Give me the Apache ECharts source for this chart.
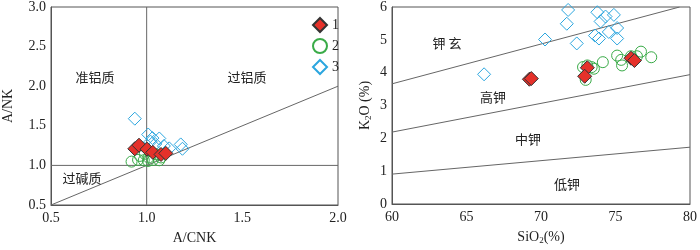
<!DOCTYPE html>
<html><head><meta charset="utf-8">
<script src="https://cdn.jsdelivr.net/npm/echarts@6/dist/echarts.min.js"></script>
<style>html,body{margin:0;padding:0;background:#fff}#c{width:700px;height:250px}</style>
</head><body><div id="c"></div>
<script>
// ---- Left chart: A/CNK vs A/NK ----
var leftS1 = [[0.938,1.21],[0.96,1.255],[1.002,1.205],[1.032,1.165],[1.075,1.138],[1.10,1.152]];
var leftS2 = [[0.921,1.048],[0.955,1.07],[0.965,1.12],[0.985,1.065],[0.99,1.146],[1.007,1.056],[1.01,1.10],[1.032,1.068],[1.049,1.14],[1.066,1.065],[1.075,1.10]];
var leftS3 = [[0.938,1.59],[1.008,1.39],[1.03,1.345],[1.066,1.34],[1.045,1.27],[1.09,1.245],[1.118,1.215],[1.178,1.265],[1.187,1.21],[1.02,1.30]];
var leftVert = [[1.0,0.5],[1.0,3.0]];
var leftHorz = [[0.5,1.0],[2.0,1.0]];
var leftDiag = [[0.5,0.5],[2.0,2.0]];
// ---- Right chart: SiO2 vs K2O ----
var rightS1 = [[69.22,3.80],[69.35,3.82],[73.11,4.15],[72.93,3.89],[76.04,4.44],[76.27,4.37]];
var rightS2 = [[73.0,3.78],[73.11,4.22],[73.4,4.17],[73.55,4.12],[72.82,4.17],[74.15,4.32],[75.11,4.52],[75.44,4.22],[75.38,4.39],[76.04,4.50],[76.44,4.50],[76.71,4.64],[77.4,4.47]];
var rightS3 = [[66.18,3.95],[70.27,5.01],[71.73,5.49],[71.82,5.91],[72.4,4.89],[73.78,5.84],[74.0,5.56],[74.33,5.71],[74.89,5.76],[73.62,5.13],[73.89,5.04],[74.55,5.24],[75.11,5.36],[75.11,5.04]];
var rightShoLine = [[60,3.66],[79.3,6.0]];
var rightHighLine = [[60,2.19],[80,3.94]];
var rightLowLine = [[60,0.91],[80,1.73]];
var legendNames = ['1','2','3'];

var FONT = '"Liberation Serif","Times New Roman",serif';
var CJK = '"Noto Sans CJK SC",sans-serif';
var RED = '#e5312a', GREEN = '#3aab48', BLUE = '#2ba6df';
var axisCol = '#555';

function xAxis(idx, min, max, interval, name, fmt, rich){
  return {gridIndex: idx, type:'value', min:min, max:max, interval:interval,
    name:name, nameLocation:'middle', nameGap:26,
    nameTextStyle:{fontFamily:FONT, fontSize:14, color:'#222', rich:rich},
    axisLine:{show:true, lineStyle:{color:axisCol, width:1}},
    axisTick:{show:false}, splitLine:{show:false},
    axisLabel:{fontFamily:FONT, fontSize:14, color:'#222', margin:6, formatter:fmt}};
}
function yAxis(idx, min, max, interval, name, gap, fmt, rich){
  return {gridIndex: idx, type:'value', min:min, max:max, interval:interval,
    name:name, nameLocation:'middle', nameGap:gap, nameRotate:90,
    nameTextStyle:{fontFamily:FONT, fontSize:14, color:'#222', rich:rich},
    axisLine:{show:true, lineStyle:{color:axisCol, width:1}},
    axisTick:{show:false}, splitLine:{show:false},
    axisLabel:{fontFamily:FONT, fontSize:14, color:'#222', margin:5, formatter:fmt}};
}
function refLine(xi, data){
  return {type:'line', xAxisIndex:xi, yAxisIndex:xi, data:data, symbol:'none', silent:true,
    lineStyle:{color:'#666', width:1}, z:1, animation:false};
}
function s1(xi, data){ return {name:'1', type:'scatter', xAxisIndex:xi, yAxisIndex:xi, data:data, symbol:'diamond', symbolSize:14,
  itemStyle:{color:RED, borderColor:'#333', borderWidth:1, opacity:1}, z:5}; }
function s2(xi, data){ return {name:'2', type:'scatter', xAxisIndex:xi, yAxisIndex:xi, data:data, symbol:'circle', symbolSize:11,
  itemStyle:{color:'rgba(255,255,255,0)', borderColor:GREEN, borderWidth:1, opacity:1}, z:4}; }
function s3(xi, data){ return {name:'3', type:'scatter', xAxisIndex:xi, yAxisIndex:xi, data:data, symbol:'diamond', symbolSize:13,
  itemStyle:{color:'rgba(255,255,255,0)', borderColor:BLUE, borderWidth:1, opacity:1}, z:3}; }

var f1 = function(v){ return v.toFixed(1); };
var f0 = function(v){ return String(v); };
var subRich = {sub:{fontFamily:FONT, fontSize:9, color:'#222', verticalAlign:'bottom', padding:[6,0,0,0]}};

function txt(x, y, s){
  return {type:'text', left:x, top:y, style:{text:s, fontFamily:CJK, fontSize:13, fill:'#222', textAlign:'center', textVerticalAlign:'middle'}, z:10};
}

var chart = echarts.init(document.getElementById('c'), null, {renderer:'canvas'});
chart.setOption({
  animation:false,
  backgroundColor:'#fff',
  grid:[
    {left:47, top:7, width:291, height:202, show:true, borderColor:axisCol, borderWidth:1, backgroundColor:'transparent'},
    {left:392, top:7, width:300, height:202, show:true, borderColor:axisCol, borderWidth:1, backgroundColor:'transparent'}
  ],
  xAxis:[ xAxis(0,0.5,2.0,0.5,'A/CNK',f1), xAxis(1,60,80,5,'SiO{sub|2}(%)',f0,subRich) ],
  yAxis:[ yAxis(0,0.5,3.0,0.5,'A/NK',36,f1), yAxis(1,0,6,1,'K{sub|2}O (%)',19,f0,subRich) ],
  legend:{data:legendNames, orient:'vertical', left:307, top:12, itemWidth:14, itemHeight:14, itemGap:5,
    textStyle:{fontFamily:FONT, fontSize:14, color:'#222'}, selectedMode:false},
  series:[
    refLine(0,leftVert), refLine(0,leftHorz), refLine(0,leftDiag),
    refLine(1,rightShoLine), refLine(1,rightHighLine), refLine(1,rightLowLine),
    s3(0,leftS3), s2(0,leftS2), s1(0,leftS1),
    s3(1,rightS3), s2(1,rightS2), s1(1,rightS1)
  ],
  graphic:[]
});
var labels = [[95,77,'准铝质'],[247,77,'过铝质'],[82,178,'过碱质'],[447,43,'钾 玄'],[493,97,'高钾'],[528,139,'中钾'],[567,184,'低钾']];
chart.setOption({graphic: labels.map(function(l){
  return {type:'text', x:l[0], y:l[1], style:{text:l[2], font:'13px "Noto Sans CJK SC", sans-serif', fill:'#222', align:'center', verticalAlign:'middle'}, z:10};
})});
</script></body></html>
